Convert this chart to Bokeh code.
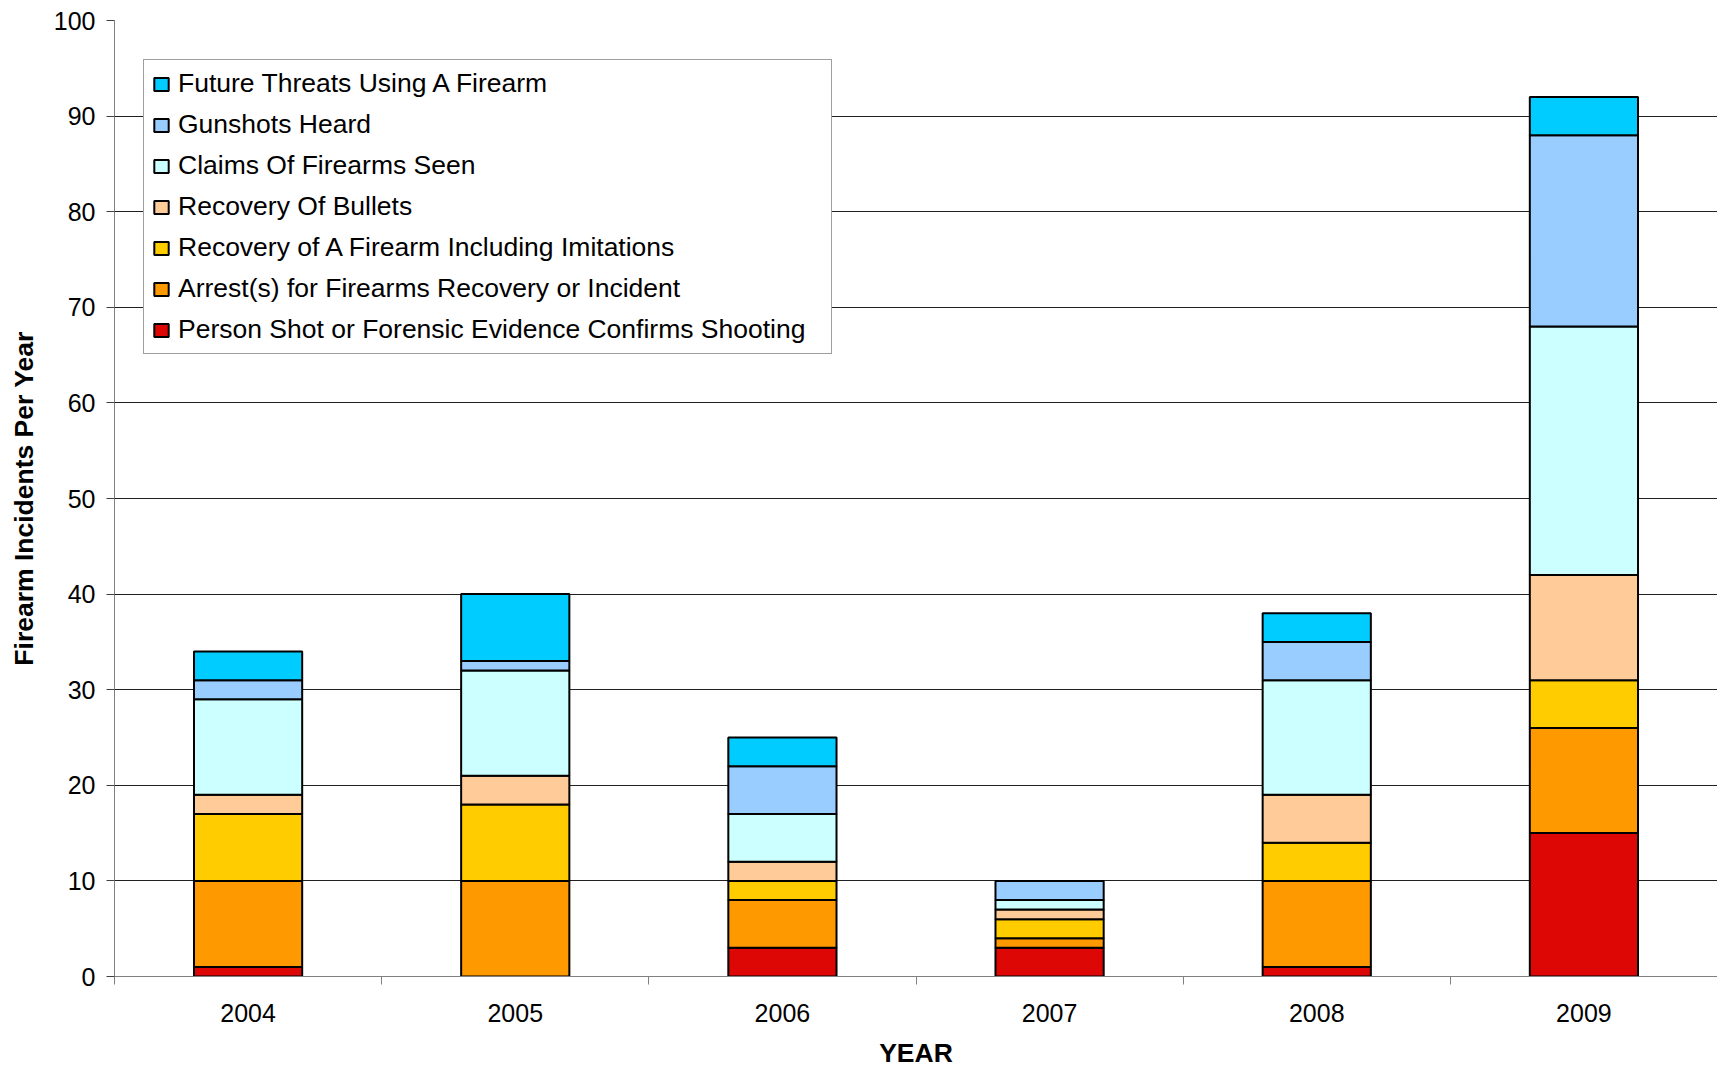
from bokeh.plotting import figure
from bokeh.models import FixedTicker, Legend, LegendItem, Range1d, ColumnDataSource
from bokeh.embed import file_html
from bokeh.resources import INLINE

years = ["2004", "2005", "2006", "2007", "2008", "2009"]
person_shot = [1, 0, 3, 3, 1, 15]
arrests = [9, 10, 5, 1, 9, 11]
recovery_firearm = [7, 8, 2, 2, 4, 5]
recovery_bullets = [2, 3, 2, 1, 5, 11]
claims_seen = [10, 11, 5, 1, 12, 26]
gunshots_heard = [2, 1, 5, 2, 4, 20]
future_threats = [3, 7, 3, 0, 3, 4]

series_names = [
    "Person Shot or Forensic Evidence Confirms Shooting",
    "Arrest(s) for Firearms Recovery or Incident",
    "Recovery of A Firearm Including Imitations",
    "Recovery Of Bullets",
    "Claims Of Firearms Seen",
    "Gunshots Heard",
    "Future Threats Using A Firearm",
]
series_values = [person_shot, arrests, recovery_firearm, recovery_bullets,
                 claims_seen, gunshots_heard, future_threats]
colors = ["#DD0806", "#FF9900", "#FFCC00", "#FFCC99", "#CCFFFF", "#99CCFF", "#00CCFF"]
y_ticks = [0, 10, 20, 30, 40, 50, 60, 70, 80, 90, 100]

FONT = "Liberation Sans"

xs = [i + 0.5 for i in range(len(years))]
keys = ["s%d" % i for i in range(len(series_names))]
data = {"x": xs}
for k, v in zip(keys, series_values):
    data[k] = v
source = ColumnDataSource(data)

p = figure(width=1717, height=1070, output_backend="svg", toolbar_location=None,
           x_range=Range1d(0, len(years)), y_range=Range1d(0, 100),
           min_border_left=114, min_border_right=0, min_border_top=20, min_border_bottom=94)
p.outline_line_color = None
p.background_fill_color = "white"
p.border_fill_color = "white"

renderers = p.vbar_stack(keys, x="x", width=0.405, source=source, color=colors,
                         line_color="black", line_width=2)

# axes
p.xaxis.ticker = FixedTicker(ticks=xs, minor_ticks=list(range(len(years) + 1)))
p.xaxis.major_label_overrides = {x: y for x, y in zip(xs, years)}
p.xaxis.major_tick_out = 0
p.xaxis.major_tick_in = 0
p.xaxis.minor_tick_out = 8
p.xaxis.minor_tick_in = 0
p.xaxis.minor_tick_line_color = "#808080"
p.xaxis.axis_line_color = "#808080"
p.xaxis.major_label_standoff = 19
p.xaxis.axis_label = "YEAR"
p.xaxis.axis_label_standoff = 13

p.yaxis.ticker = FixedTicker(ticks=y_ticks)
p.yaxis.major_tick_out = 8
p.yaxis.major_tick_in = 0
p.yaxis.minor_tick_line_color = None
p.yaxis.major_tick_line_color = "#404040"
p.yaxis.axis_line_color = "#808080"
p.yaxis.major_label_standoff = 11
p.yaxis.axis_label = "Firearm Incidents Per Year"
p.yaxis.axis_label_standoff = 12

for ax in (p.xaxis[0], p.yaxis[0]):
    ax.major_label_text_font = FONT
    ax.major_label_text_font_size = "25px"
    ax.major_label_text_color = "black"
    ax.axis_label_text_font = FONT
    ax.axis_label_text_font_size = "26.5px"
    ax.axis_label_text_font_style = "bold"
    ax.axis_label_text_color = "black"

p.xgrid.grid_line_color = None
p.ygrid.ticker = FixedTicker(ticks=y_ticks)
p.ygrid.grid_line_color = "#202020"
p.ygrid.grid_line_width = 1

items = [LegendItem(label=n, renderers=[r]) for n, r in zip(series_names, renderers)]
items.reverse()
legend = Legend(items=items, location=(29, 622))
legend.label_text_font = FONT
legend.label_text_font_size = "26.5px"
legend.label_text_color = "black"
legend.glyph_width = 18
legend.glyph_height = 16
legend.label_standoff = 8
legend.label_height = 28
legend.label_width = 645
legend.spacing = 10
legend.padding = 8
legend.margin = 0
legend.border_line_color = "#404040"
legend.border_line_width = 1
legend.background_fill_color = "white"
legend.background_fill_alpha = 1
p.add_layout(legend, "center")

open("out.html", "w").write(file_html(p, INLINE))
